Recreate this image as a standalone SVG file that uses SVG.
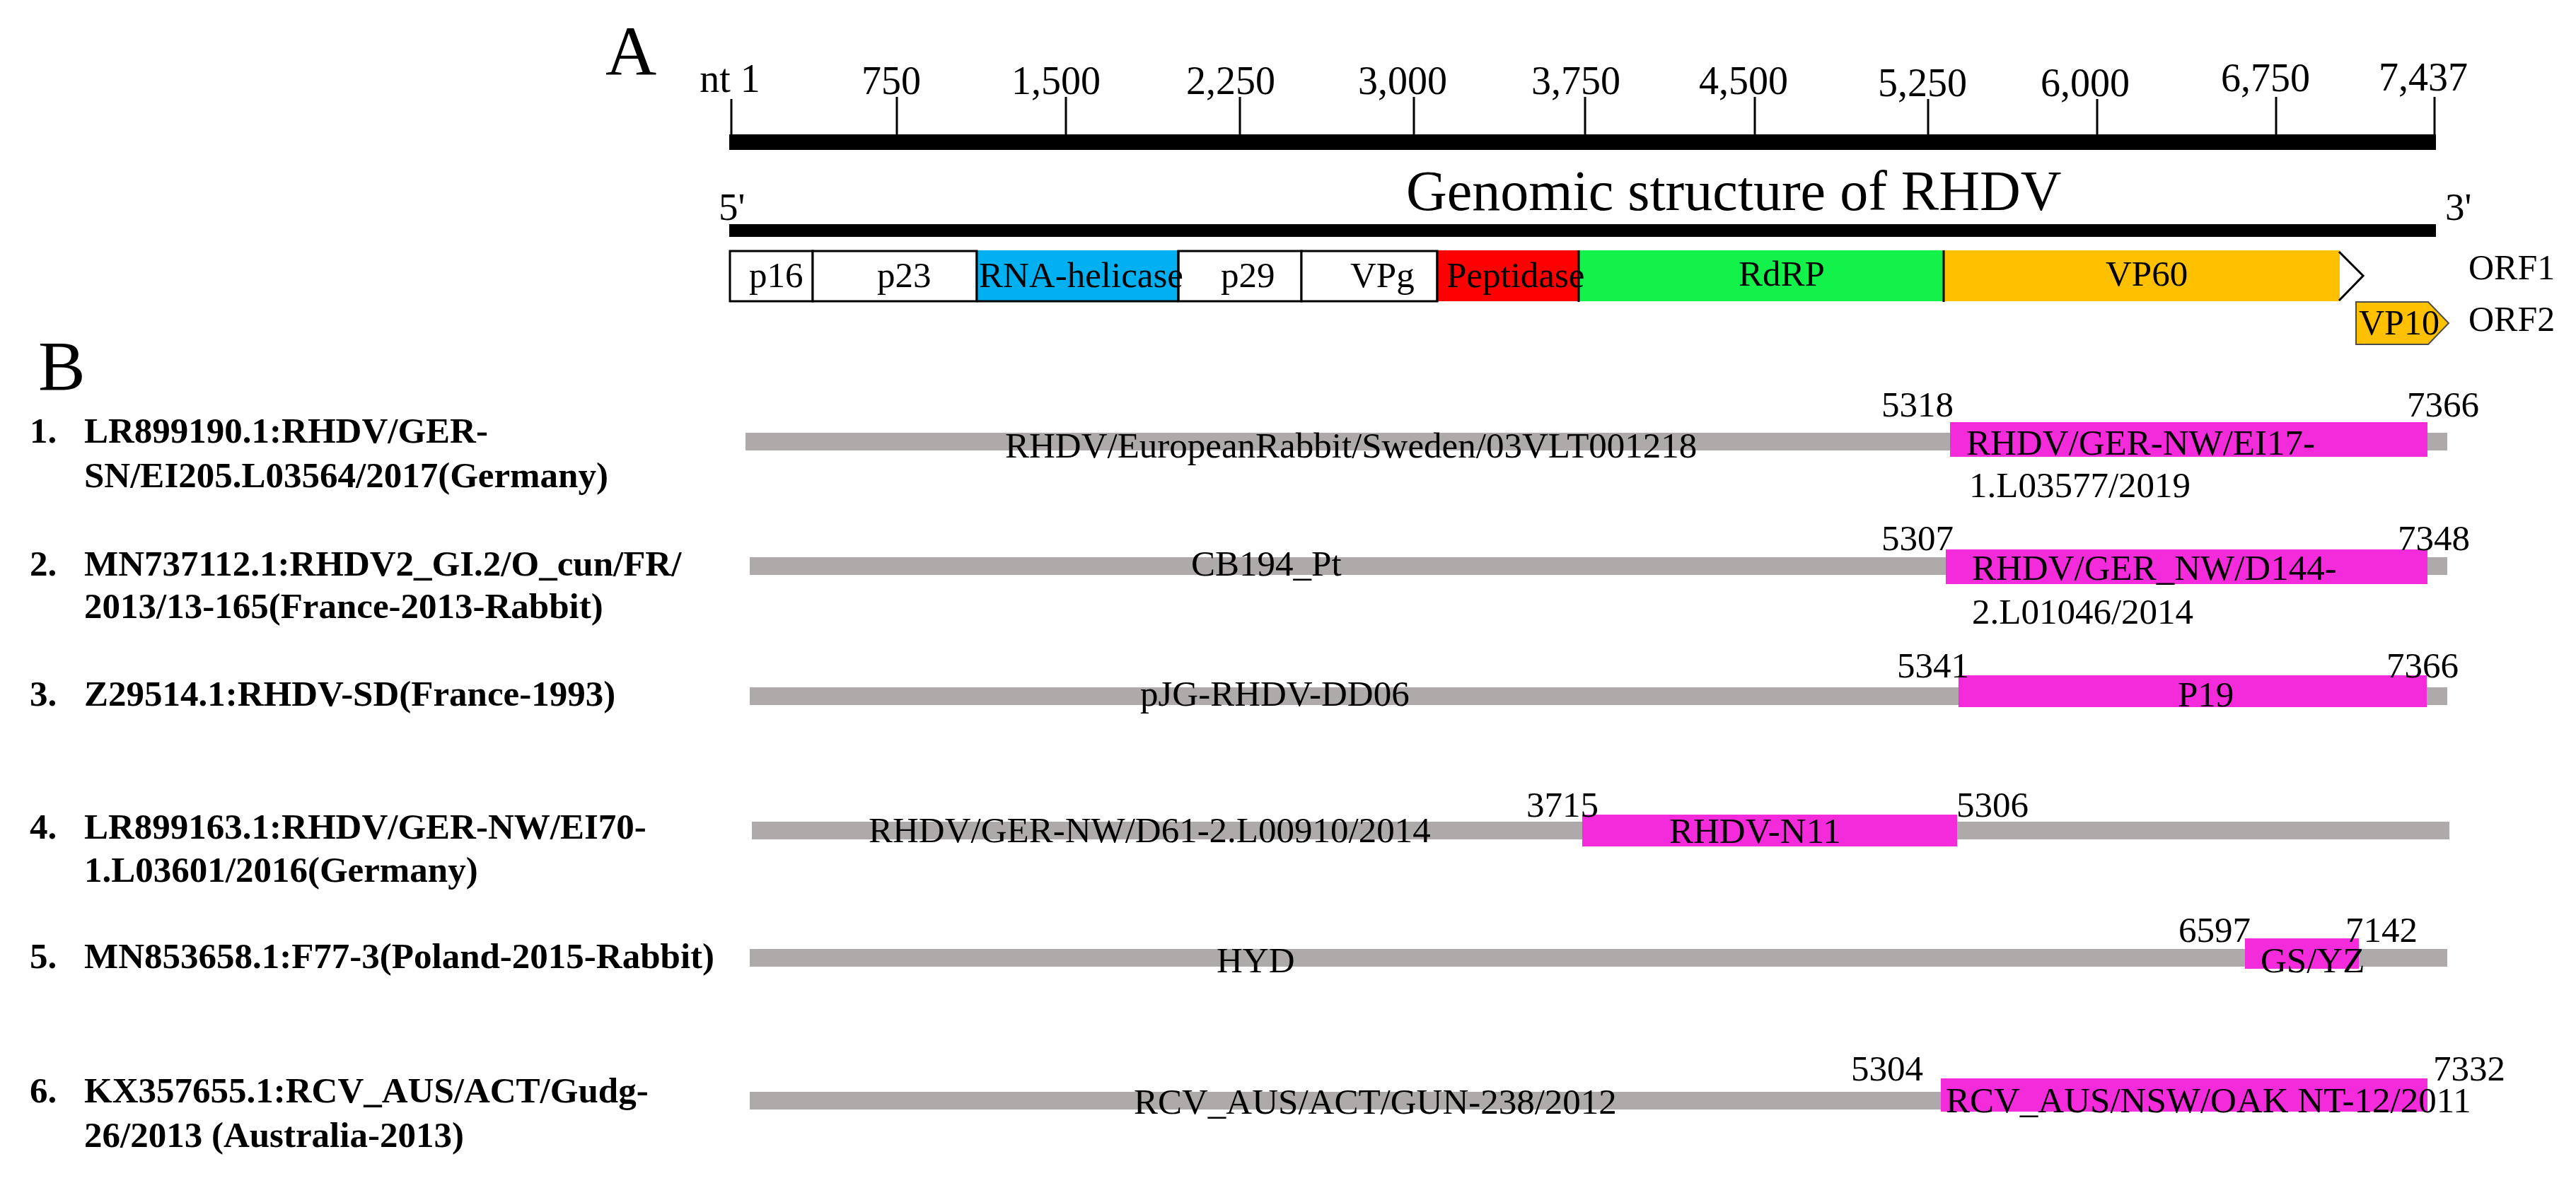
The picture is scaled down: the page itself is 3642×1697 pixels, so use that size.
<svg xmlns="http://www.w3.org/2000/svg" width="3642" height="1697" viewBox="0 0 3642 1697">
<style>
text{font-family:"Liberation Serif","Times New Roman",serif;fill:#000}
.big{font-size:100px}
.tk{font-size:56px;text-anchor:middle}
.lb{font-size:51px}
.bd{font-size:51px;font-weight:bold}
.orf{font-size:50px}
.bar{fill:#AEAAAA}
.hit{fill:#F42BDA}
.tick{stroke:#000;stroke-width:3}
.box{stroke:#000;stroke-width:3}
.sep{stroke:#000;stroke-width:3}
</style>
<rect width="3642" height="1697" fill="#fff"/>
<text class="big" x="856" y="106">A</text>
<g id="ruler">
<rect x="1031" y="190" width="2413" height="22" fill="#000"/>
<line class="tick" x1="1034" y1="140" x2="1034" y2="191"/>
<line class="tick" x1="1268" y1="137" x2="1268" y2="191"/>
<line class="tick" x1="1507" y1="137" x2="1507" y2="191"/>
<line class="tick" x1="1753" y1="137" x2="1753" y2="191"/>
<line class="tick" x1="1999" y1="137" x2="1999" y2="191"/>
<line class="tick" x1="2241" y1="137" x2="2241" y2="191"/>
<line class="tick" x1="2481" y1="137" x2="2481" y2="191"/>
<line class="tick" x1="2726" y1="140" x2="2726" y2="191"/>
<line class="tick" x1="2965" y1="140" x2="2965" y2="191"/>
<line class="tick" x1="3218" y1="137" x2="3218" y2="191"/>
<line class="tick" x1="3442" y1="137" x2="3442" y2="191"/>
<text class="tk" x="1032" y="130">nt 1</text>
<text class="tk" x="1260" y="133">750</text>
<text class="tk" x="1493" y="133">1,500</text>
<text class="tk" x="1740" y="133">2,250</text>
<text class="tk" x="1983" y="133">3,000</text>
<text class="tk" x="2228" y="133">3,750</text>
<text class="tk" x="2465" y="133">4,500</text>
<text class="tk" x="2718" y="136">5,250</text>
<text class="tk" x="2948" y="136">6,000</text>
<text class="tk" x="3203" y="129">6,750</text>
<text class="tk" x="3426" y="128">7,437</text>
</g>
<g id="genome">
<text x="1988" y="297" style="font-size:80px">Genomic structure of RHDV</text>
<text x="1016" y="311" style="font-size:55px">5'</text>
<text x="3457" y="311" style="font-size:55px">3'</text>
<rect x="1031" y="317" width="2413" height="18" fill="#000"/>
</g>
<g id="orf1">
<rect class="box" x="1032" y="355" width="117" height="71" fill="#fff"/>
<rect class="box" x="1149" y="355" width="232" height="71" fill="#fff"/>
<rect x="1381" y="354" width="285" height="72" fill="#00B0F0"/>
<rect class="box" x="1666" y="355" width="174" height="71" fill="#fff"/>
<rect class="box" x="1840" y="355" width="192" height="71" fill="#fff"/>
<rect x="2032" y="354" width="200" height="72" fill="#FF0000"/>
<rect x="2232" y="354" width="516" height="72" fill="#13F24B"/>
<rect x="2748" y="354" width="560" height="72" fill="#FFC000"/>
<line class="sep" x1="1381" y1="354" x2="1381" y2="427"/>
<line class="sep" x1="1666" y1="354" x2="1666" y2="427"/>
<line class="sep" x1="1381" y1="426" x2="1666" y2="426"/>
<line class="sep" x1="2032" y1="354" x2="2032" y2="427"/>
<line class="sep" x1="2232" y1="354" x2="2232" y2="427"/>
<line class="sep" x1="2748" y1="354" x2="2748" y2="427"/>
<polyline points="3307,356 3341,390 3307,425" fill="none" stroke="#000" stroke-width="3"/>
<text class="lb" x="1059" y="406">p16</text>
<text class="lb" x="1240" y="406">p23</text>
<text class="lb" x="1384" y="406">RNA-helicase</text>
<text class="lb" x="1726" y="406">p29</text>
<text class="lb" x="1909" y="406">VPg</text>
<text class="lb" x="2045" y="406">Peptidase</text>
<text class="lb" x="2458" y="404">RdRP</text>
<text class="lb" x="2977" y="404">VP60</text>
<text class="orf" x="3490" y="395">ORF1</text>
</g>
<g id="orf2">
<polygon points="3331,427 3433,427 3462,457 3433,487 3331,487" fill="#FFC000" stroke="#4d4d4d" stroke-width="2"/>
<text class="orf" x="3335" y="473">VP10</text>
<text class="orf" x="3490" y="468">ORF2</text>
</g>
<text class="big" x="54" y="551">B</text>
<g id="row1">
<text class="bd" x="42" y="626">1.</text>
<text class="bd" x="119" y="626">LR899190.1:RHDV/GER-</text>
<text class="bd" x="119" y="689">SN/EI205.L03564/2017(Germany)</text>
<rect class="bar" x="1054" y="612" width="2406" height="25"/>
<rect class="hit" x="2757" y="597" width="675" height="49"/>
<text class="lb" x="1421" y="647">RHDV/EuropeanRabbit/Sweden/03VLT001218</text>
<text class="lb" x="2780" y="643">RHDV/GER-NW/EI17-</text>
<text class="lb" x="2784" y="703">1.L03577/2019</text>
<text class="lb" x="2660" y="589">5318</text>
<text class="lb" x="3403" y="589">7366</text>
</g>
<g id="row2">
<text class="bd" x="42" y="814">2.</text>
<text class="bd" x="119" y="814">MN737112.1:RHDV2_GI.2/O_cun/FR/</text>
<text class="bd" x="119" y="874">2013/13-165(France-2013-Rabbit)</text>
<rect class="bar" x="1060" y="788" width="2400" height="25"/>
<rect class="hit" x="2751" y="777" width="681" height="49"/>
<text class="lb" x="1684" y="814">CB194_Pt</text>
<text class="lb" x="2788" y="820">RHDV/GER_NW/D144-</text>
<text class="lb" x="2788" y="882">2.L01046/2014</text>
<text class="lb" x="2660" y="778">5307</text>
<text class="lb" x="3390" y="778">7348</text>
</g>
<g id="row3">
<text class="bd" x="42" y="998">3.</text>
<text class="bd" x="119" y="998">Z29514.1:RHDV-SD(France-1993)</text>
<rect class="bar" x="1060" y="972" width="2400" height="25"/>
<rect class="hit" x="2769" y="955" width="662" height="45"/>
<text class="lb" x="1612" y="998">pJG-RHDV-DD06</text>
<text class="lb" x="3079" y="999">P19</text>
<text class="lb" x="2682" y="958">5341</text>
<text class="lb" x="3374" y="958">7366</text>
</g>
<g id="row4">
<text class="bd" x="42" y="1186">4.</text>
<text class="bd" x="119" y="1186">LR899163.1:RHDV/GER-NW/EI70-</text>
<text class="bd" x="119" y="1247">1.L03601/2016(Germany)</text>
<rect class="bar" x="1063" y="1162" width="2400" height="25"/>
<rect class="hit" x="2237" y="1152" width="530" height="45"/>
<text class="lb" x="1228" y="1191">RHDV/GER-NW/D61-2.L00910/2014</text>
<text class="lb" x="2360" y="1192">RHDV-N11</text>
<text class="lb" x="2158" y="1155">3715</text>
<text class="lb" x="2766" y="1155">5306</text>
</g>
<g id="row5">
<text class="bd" x="42" y="1369">5.</text>
<text class="bd" x="119" y="1369">MN853658.1:F77-3(Poland-2015-Rabbit)</text>
<rect class="bar" x="1060" y="1342" width="2400" height="25"/>
<rect class="hit" x="3174" y="1327" width="161" height="43"/>
<text class="lb" x="1720" y="1375">HYD</text>
<text class="lb" x="3196" y="1375">GS/YZ</text>
<text class="lb" x="3080" y="1332">6597</text>
<text class="lb" x="3316" y="1332">7142</text>
</g>
<g id="row6">
<text class="bd" x="42" y="1559">6.</text>
<text class="bd" x="119" y="1559">KX357655.1:RCV_AUS/ACT/Gudg-</text>
<text class="bd" x="119" y="1622">26/2013 (Australia-2013)</text>
<rect class="bar" x="1060" y="1544" width="2372" height="25"/>
<rect class="hit" x="2744" y="1525" width="688" height="47"/>
<text class="lb" x="1603" y="1575">RCV_AUS/ACT/GUN-238/2012</text>
<text class="lb" x="2751" y="1573">RCV_AUS/NSW/OAK NT-12/2011</text>
<text class="lb" x="2617" y="1528">5304</text>
<text class="lb" x="3440" y="1528">7332</text>
</g>
</svg>
